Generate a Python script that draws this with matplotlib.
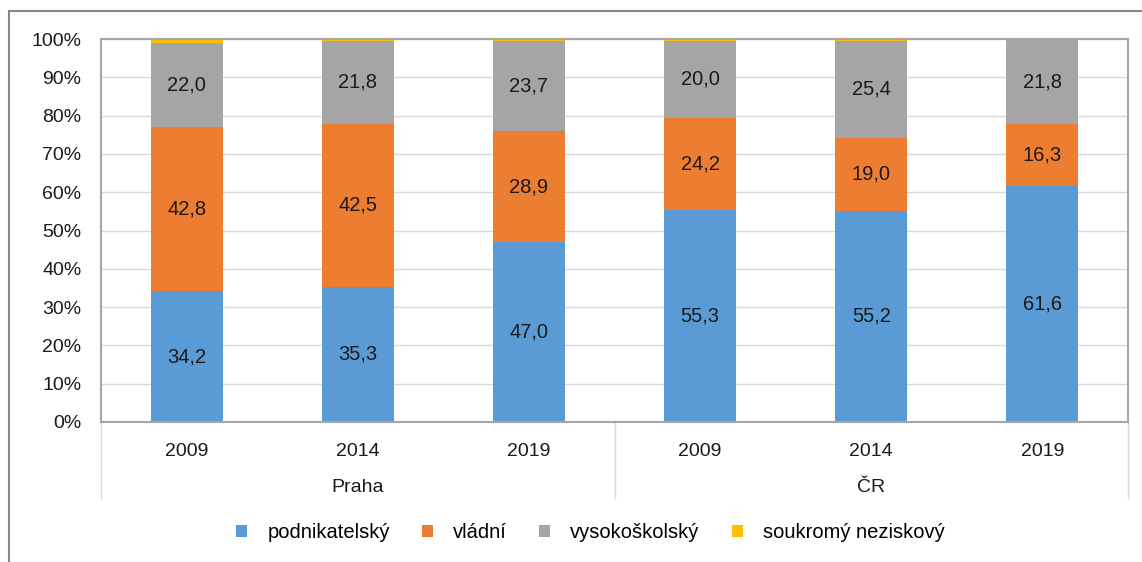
import matplotlib.pyplot as plt
from matplotlib.patches import Rectangle
from matplotlib.lines import Line2D

plt.rcParams['font.family'] = ['Liberation Sans', 'DejaVu Sans']

years = ["2009", "2014", "2019", "2009", "2014", "2019"]
groups = ["Praha", "ČR"]
series = ["podnikatelský", "vládní", "vysokoškolský", "soukromý neziskový"]
podnikatelsky = [34.2, 35.3, 47.0, 55.3, 55.2, 61.6]
vladni = [42.8, 42.5, 28.9, 24.2, 19.0, 16.3]
vysokoskolsky = [22.0, 21.8, 23.7, 20.0, 25.4, 21.8]
soukromy = [1.0, 0.4, 0.4, 0.5, 0.4, 0.3]
colors = ["#5b9bd5", "#ed7d31", "#a5a5a5", "#ffc000"]

W, H = 1142, 562
fig = plt.figure(figsize=(W / 100, H / 100), dpi=100)
ax = fig.add_axes([101 / W, 1 - 422 / H, 1027 / W, 383 / H])

# outer chart frame (right and bottom edges fall outside the picture)
fig.patches.append(Rectangle((9 / W, -0.05), 1.2, 1 - 11 / H + 0.05,
                             transform=fig.transFigure, fill=False,
                             edgecolor="#868686", linewidth=1.5))

x = list(range(len(years)))
bottom = [0.0] * len(x)
for vals, name, col in zip([podnikatelsky, vladni, vysokoskolsky, soukromy], series, colors):
    bars = ax.bar(x, vals, bottom=bottom, width=0.42, color=col, label=name, zorder=2)
    if name != "soukromý neziskový":
        for b, v, b0 in zip(bars, vals, bottom):
            ax.text(b.get_x() + b.get_width() / 2, b0 + v / 2, f"{v:.1f}".replace(".", ","),
                    ha="center", va="center", fontsize=14.5, color="#1a1a1a", zorder=3)
    bottom = [a + b for a, b in zip(bottom, vals)]

ax.set_xlim(-0.5, len(years) - 0.5)
ax.set_ylim(0, 100)
ax.set_yticks(range(0, 101, 10))
ax.set_yticklabels([f"{t}%" for t in range(0, 101, 10)], fontsize=14, color="#1a1a1a")
ax.yaxis.grid(True, color="#d9d9d9", linewidth=1, zorder=0)
ax.set_axisbelow(True)
ax.tick_params(axis="y", length=0, pad=14)
ax.set_xticks(x)
ax.set_xticklabels(years, fontsize=14, color="#1a1a1a")
ax.tick_params(axis="x", length=0, pad=15)
for s in ax.spines.values():
    s.set_color("#a6a6a6")
    s.set_linewidth(1.5)

# group separators and group labels below the axis
for gx in [-0.5, 2.5, 5.5]:
    ax.add_line(Line2D([gx, gx], [0, -76 / 383], transform=ax.get_xaxis_transform(),
                       color="#d9d9d9", linewidth=1, clip_on=False))
for i, g in enumerate(groups):
    ax.text(1 + 3 * i, -66 / 383, g, transform=ax.get_xaxis_transform(),
            ha="center", va="center", fontsize=14, color="#1a1a1a")

fig.legend(loc="center", bbox_to_anchor=(0.517, 1 - 533 / H), ncol=4, frameon=False,
           fontsize=14.5, handlelength=0.55, handleheight=0.55, columnspacing=1.6,
           handletextpad=1.0, borderaxespad=0)

fig.savefig("out.png", dpi=100)
